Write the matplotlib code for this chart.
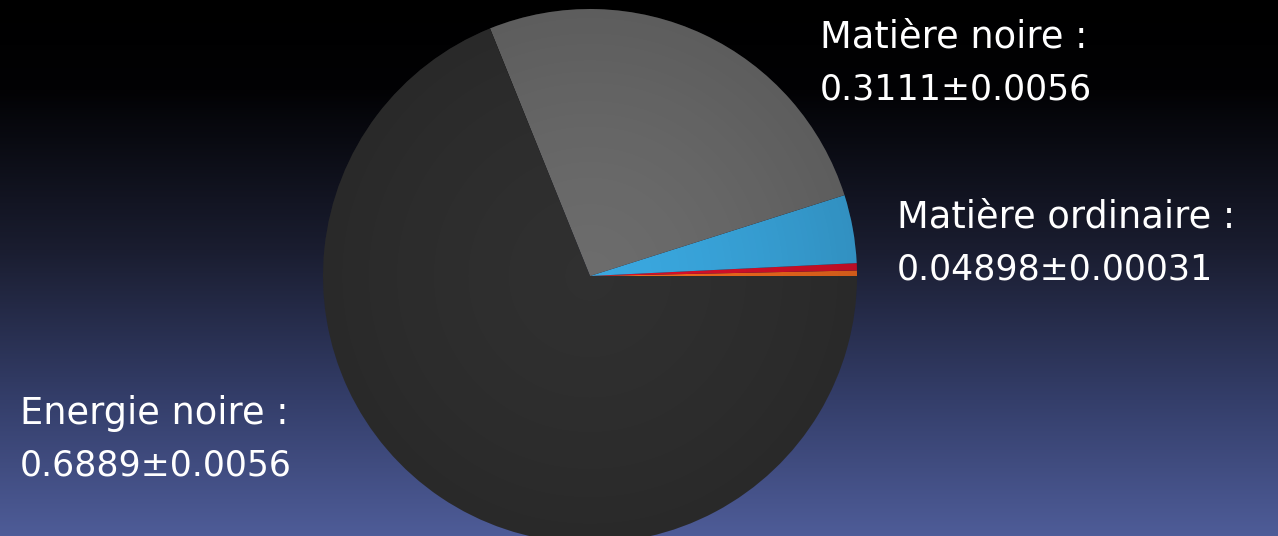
import numpy as np
import matplotlib
matplotlib.use("Agg")
import matplotlib.pyplot as plt
from matplotlib.patches import Circle

# Density parameters of the universe (fractions of total)
energie_noire = 0.6889
matiere_totale = 0.3111
matiere_ordinaire = 0.04898
# ordinary-matter share split into the blue wedge and two thin slivers
sliver_orange = 0.0033
sliver_red = 0.0044
matiere_noire = matiere_totale - matiere_ordinaire

slice_values = [sliver_orange, sliver_red,
                matiere_ordinaire - sliver_orange - sliver_red,
                matiere_noire, energie_noire]
slice_colors = ["#f06a1e", "#d8102a", "#3aa8e0", "#6c6c6c", "#303030"]

# (name line, value line, left x, baseline of name, baseline of value) in pixels
labels = [
    ("Matière noire :", "0.3111±0.0056", 820, 48, 99),
    ("Matière ordinaire :", "0.04898±0.00031", 897, 228, 279),
    ("Energie noire :", "0.6889±0.0056", 20, 424, 475),
]

W, H = 1278, 536
fig = plt.figure(figsize=(W / 100, H / 100), dpi=100)

# vertical background gradient: black at top to slate blue at bottom
bg = fig.add_axes([0, 0, 1, 1])
bg.set_axis_off()
stops_y = np.array([0, 90, 250, 400, 536]) / H
stops_c = np.array([[0, 0, 0], [2, 2, 4], [26, 29, 48], [52, 62, 106], [78, 92, 152]]) / 255
yy = np.linspace(0, 1, H)
grad = np.stack([np.interp(yy, stops_y, stops_c[:, k]) for k in range(3)], axis=-1)
bg.imshow(grad[:, None, :], aspect="auto", extent=[0, 1, 0, 1], origin="upper")
bg.set_xlim(0, 1)
bg.set_ylim(0, 1)

ax = fig.add_axes([0, 0, 1, 1])
ax.patch.set_alpha(0)

cx, cy, r = 590, H - 276, 267
ax.pie(slice_values, colors=slice_colors, startangle=0, counterclock=True,
       center=(cx, cy), radius=r, frame=True,
       wedgeprops=dict(linewidth=0, antialiased=True))
ax.set_xlim(0, W)
ax.set_ylim(0, H)
ax.set_aspect("equal")
ax.set_axis_off()

# soft radial shading over the disc
n = 400
xs = np.linspace(cx - r, cx + r, n)
ys = np.linspace(cy - r, cy + r, n)
X, Y = np.meshgrid(xs, ys)
d = np.hypot(X - cx, Y - cy) / r
shade = np.zeros((n, n, 4))
shade[..., 3] = np.clip(0.14 * d ** 1.5, 0, 0.14)
img = ax.imshow(shade, extent=[cx - r, cx + r, cy - r, cy + r], origin="lower",
                zorder=5, interpolation="bilinear")
img.set_clip_path(Circle((cx, cy), r, transform=ax.transData))

for name, value, x, b1, b2 in labels:
    fig.text(x / W, 1 - b1 / H, name, color="white", fontsize=26.5,
             family="DejaVu Sans", ha="left", va="baseline")
    fig.text(x / W, 1 - b2 / H, value, color="white", fontsize=25,
             family="DejaVu Sans", ha="left", va="baseline")

fig.savefig("out.png", dpi=100)
